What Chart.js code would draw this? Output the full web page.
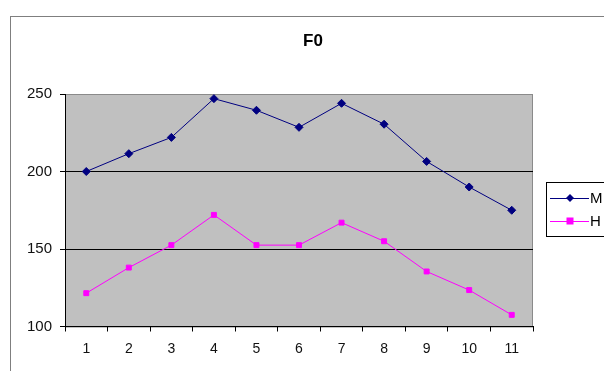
<!DOCTYPE html>
<html>
<head>
<meta charset="utf-8">
<script src="https://cdn.jsdelivr.net/npm/chart.js@4"></script>
<style>
  html, body { margin: 0; padding: 0; background: #fff; }
  #wrap { width: 604px; height: 371px; }
</style>
</head>
<body>
<div id="wrap"><canvas id="f0Chart" width="604" height="371"></canvas></div>
<script>
const chartTitle = "F0";
const categories = ["1", "2", "3", "4", "5", "6", "7", "8", "9", "10", "11"];
const seriesM = [200, 211.5, 222, 247, 239.5, 228.5, 244, 230.5, 206.5, 190, 175];
const seriesH = [121.5, 138, 152.5, 172, 152.5, 152.5, 167, 155, 135.5, 123.5, 107.5];
const yTicks = [100, 150, 200, 250];

const FONT = "Arial, 'Liberation Sans', sans-serif";

// frame, grey plot background, title, legend box (Excel style)
const excelLook = {
  id: "excelLook",
  beforeDraw(chart) {
    const ctx = chart.ctx;
    const a = chart.chartArea;
    ctx.save();
    ctx.strokeStyle = "#7f7f7f";
    ctx.lineWidth = 1;
    ctx.strokeRect(10.5, 16.5, 640, 400);
    ctx.fillStyle = "#c0c0c0";
    ctx.fillRect(a.left, a.top, a.right - a.left, a.bottom - a.top);
    ctx.strokeStyle = "#8a8a8a";
    ctx.strokeRect(a.left + 0.5, a.top + 0.5, a.right - a.left - 1, a.bottom - a.top);
    ctx.restore();
  },
  afterDraw(chart) {
    const ctx = chart.ctx;
    ctx.save();
    ctx.fillStyle = "#000";
    ctx.font = "bold 17px " + FONT;
    ctx.textAlign = "center";
    ctx.textBaseline = "middle";
    ctx.fillText(chartTitle, 313, 41);

    ctx.textAlign = "left";
    ctx.strokeStyle = "#000";
    ctx.lineWidth = 1;
    ctx.strokeRect(546.5, 182.5, 100, 54);
    chart.data.datasets.forEach((ds, i) => {
      const y = 198 + i * 23;
      ctx.strokeStyle = ds.borderColor;
      ctx.beginPath();
      ctx.moveTo(550, y + 0.5);
      ctx.lineTo(589, y + 0.5);
      ctx.stroke();
      ctx.fillStyle = ds.pointBackgroundColor;
      if (ds.pointStyle === "rectRot") {
        ctx.beginPath();
        ctx.moveTo(570, y - 4); ctx.lineTo(574, y); ctx.lineTo(570, y + 4); ctx.lineTo(566, y);
        ctx.closePath();
        ctx.fill();
      } else {
        ctx.fillRect(566.5, y - 3.5, 7, 7);
      }
      ctx.fillStyle = "#000";
      ctx.font = "15px " + FONT;
      ctx.textBaseline = "middle";
      ctx.fillText(ds.label, 590, y + 1);
    });
    ctx.restore();
  }
};

new Chart(document.getElementById("f0Chart"), {
  type: "line",
  data: {
    labels: categories,
    datasets: [
      {
        label: "M", data: seriesM,
        borderColor: "#000080", backgroundColor: "#000080",
        pointBackgroundColor: "#000080", pointBorderColor: "#000080",
        pointStyle: "rectRot", pointRadius: 4, borderWidth: 1, tension: 0
      },
      {
        label: "H", data: seriesH,
        borderColor: "#ff00ff", backgroundColor: "#ff00ff",
        pointBackgroundColor: "#ff00ff", pointBorderColor: "#ff00ff",
        pointStyle: "rect", pointRadius: 3.5, borderWidth: 1, tension: 0
      }
    ]
  },
  options: {
    responsive: false,
    animation: false,
    layout: { padding: { left: 0, right: 71, top: 94, bottom: 0 } },
    plugins: {
      legend: { display: false },
      tooltip: { enabled: false },
      title: { display: false }
    },
    scales: {
      x: {
        offset: true,
        afterFit: s => { s.height = 44.5; },
        grid: { offset: true, drawOnChartArea: false, tickLength: 5, tickColor: "#000" },
        border: { display: true, color: "#000" },
        ticks: { color: "#111", padding: 9, font: { family: FONT, size: 14 } }
      },
      y: {
        min: 100, max: 250,
        afterFit: s => { s.width = 65; },
        afterBuildTicks: s => { s.ticks = yTicks.map(v => ({ value: v })); },
        grid: {
          color: c => (c.tick && c.tick.value === 250 ? "#8a8a8a" : "#000"),
          tickLength: 5, tickColor: "#000"
        },
        border: { display: true, color: "#000" },
        ticks: { color: "#111", padding: 8, font: { family: FONT, size: 15 } }
      }
    }
  },
  plugins: [excelLook]
});
</script>
</body>
</html>
